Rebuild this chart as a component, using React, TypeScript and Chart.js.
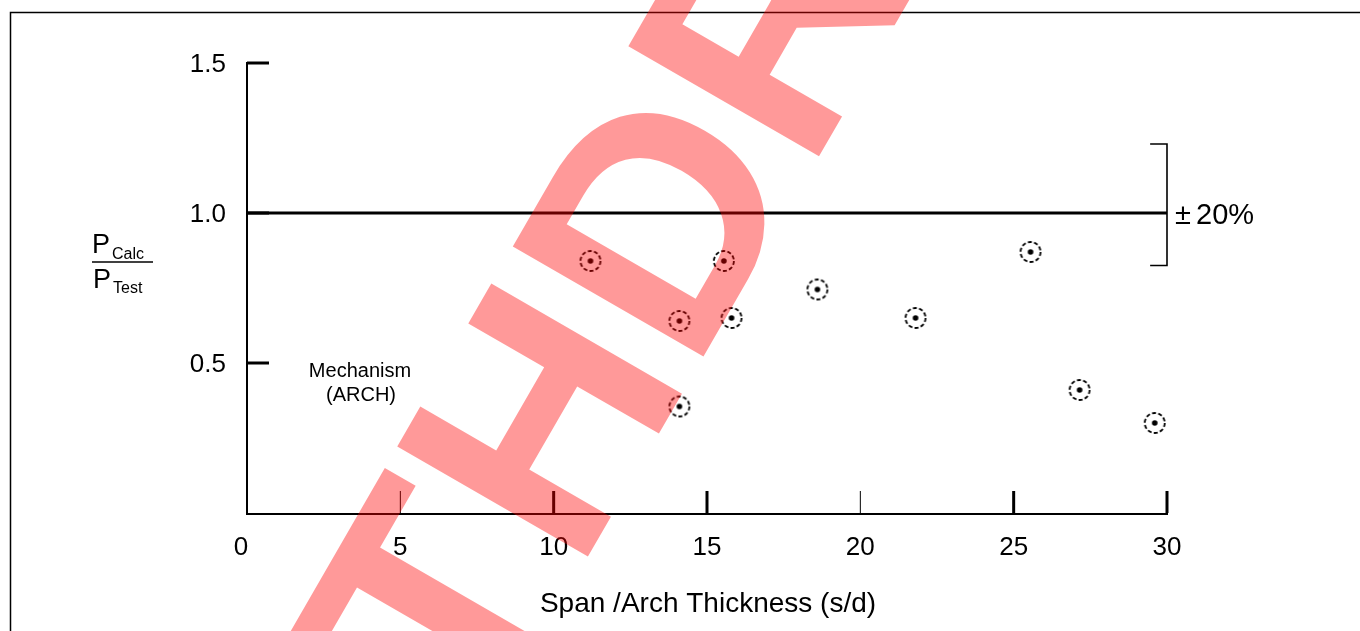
import React, { useEffect, useRef } from 'react';
import { Chart, registerables } from 'chart.js';

Chart.register(...registerables);

// ---- data ----
const spanRatio = [11.2, 15.55, 14.1, 15.8, 18.6, 21.8, 25.55, 14.1, 27.15, 29.6];
const pRatio = [0.84, 0.84, 0.64, 0.65, 0.745, 0.65, 0.87, 0.355, 0.41, 0.3];
const xTickValues = [0, 5, 10, 15, 20, 25, 30];
const xTickLabels = ['0', '5', '10', '15', '20', '25', '30'];
const yTickValues = [0.5, 1.0, 1.5];
const yTickLabels = ['0.5', '1.0', '1.5'];
const referenceY = 1.0;
const bandUpper = 1.23;
const bandLower = 0.825;
const bandLeftX = 29.45;
const xTitle = 'Span /Arch Thickness (s/d)';
const bandLabel = '±20%';
const noteLines = ['Mechanism', '(ARCH)'];
const watermarkText = 'WITHDRAWN';

// ---- styles ----
const FONT = "'Liberation Sans', Arial, sans-serif";
const xTickWidths = [0, 1, 3, 3, 1, 3, 3];

function makeMarker(): HTMLCanvasElement {
  const c = document.createElement('canvas');
  c.width = 26;
  c.height = 26;
  const g = c.getContext('2d')!;
  g.strokeStyle = '#000';
  g.lineWidth = 1.8;
  g.setLineDash([4, 2.3]);
  g.beginPath();
  g.arc(13, 13, 10, 0, Math.PI * 2);
  g.stroke();
  g.setLineDash([]);
  g.fillStyle = '#000';
  g.beginPath();
  g.arc(13, 13, 2.8, 0, Math.PI * 2);
  g.fill();
  return c;
}

const decorPlugin = {
  id: 'decor',
  beforeDraw(chart: any) {
    const ctx = chart.ctx;
    ctx.save();
    ctx.fillStyle = '#fff';
    ctx.fillRect(0, 0, chart.width, chart.height);
    ctx.strokeStyle = '#000';
    ctx.lineWidth = 1.5;
    ctx.strokeRect(10.5, 12.5, 1500, 800);
    ctx.restore();
  },
  beforeDatasetsDraw(chart: any) {
    const ctx = chart.ctx;
    const xs = chart.scales.x;
    const ys = chart.scales.y;
    const x0 = xs.getPixelForValue(0);
    const x1 = xs.getPixelForValue(30);
    const y0 = ys.getPixelForValue(0);
    const yTop = ys.getPixelForValue(1.5);
    ctx.save();
    ctx.strokeStyle = '#000';
    ctx.fillStyle = '#000';
    // axes
    ctx.lineWidth = 2;
    ctx.beginPath();
    ctx.moveTo(x0, yTop - 1);
    ctx.lineTo(x0, y0 + 1);
    ctx.lineTo(x1 + 1, y0 + 1);
    ctx.stroke();
    // x ticks
    xTickValues.forEach((v, i) => {
      const w = xTickWidths[i];
      if (!w) return;
      const px = xs.getPixelForValue(v);
      ctx.lineWidth = w;
      ctx.beginPath();
      ctx.moveTo(px, y0);
      ctx.lineTo(px, y0 - 22);
      ctx.stroke();
    });
    // y ticks
    yTickValues.forEach((v) => {
      const py = ys.getPixelForValue(v);
      ctx.lineWidth = 3;
      ctx.beginPath();
      ctx.moveTo(x0, py);
      ctx.lineTo(x0 + 22, py);
      ctx.stroke();
    });
    // tick labels
    ctx.font = `26px ${FONT}`;
    ctx.textAlign = 'center';
    ctx.textBaseline = 'alphabetic';
    xTickValues.forEach((v, i) => {
      ctx.fillText(xTickLabels[i], xs.getPixelForValue(v) - (i === 0 ? 6 : 0), 555);
    });
    ctx.textAlign = 'right';
    yTickValues.forEach((v, i) => {
      ctx.fillText(yTickLabels[i], 226, ys.getPixelForValue(v) + 9);
    });
    // x title
    ctx.textAlign = 'center';
    ctx.font = `28px ${FONT}`;
    ctx.fillText(xTitle, 708, 612);
    // y title fraction
    ctx.textAlign = 'left';
    ctx.font = `27px ${FONT}`;
    ctx.fillText('P', 92, 253);
    ctx.fillText('P', 93, 288);
    ctx.font = `16px ${FONT}`;
    ctx.fillText('Calc', 112, 259);
    ctx.fillText('Test', 113, 293);
    ctx.lineWidth = 1.5;
    ctx.beginPath();
    ctx.moveTo(92, 262);
    ctx.lineTo(153, 262);
    ctx.stroke();
    // band label: sign then number, with a small gap as in the figure
    ctx.font = `29px ${FONT}`;
    ctx.fillText(bandLabel.slice(0, 1), 1175, 224);
    ctx.fillText(bandLabel.slice(1), 1196, 224);
    // note
    ctx.textAlign = 'center';
    ctx.font = `20px ${FONT}`;
    ctx.fillText(noteLines[0], 360, 377);
    ctx.fillText(noteLines[1], 361, 401);
    ctx.restore();
  },
  afterDraw(chart: any) {
    const ctx = chart.ctx;
    ctx.save();
    ctx.fillStyle = 'rgba(255,0,0,0.4)';
    ctx.font = `bold 320px ${FONT}`;
    ctx.textAlign = 'left';
    ctx.textBaseline = 'alphabetic';
    ctx.translate(284, 1083);
    ctx.rotate((-60 * Math.PI) / 180);
    ctx.fillText(watermarkText, 0, 0);
    ctx.restore();
  },
};

export default function App() {
  const ref = useRef<HTMLCanvasElement | null>(null);
  useEffect(() => {
    document.body.style.margin = '0';
    const canvas = ref.current!;
    const marker = makeMarker();
    const chart = new Chart(canvas, {
      type: 'scatter',
      data: {
        datasets: [
          {
            label: 'points',
            data: spanRatio.map((x, i) => ({ x, y: pRatio[i] })),
            pointStyle: marker as any,
            pointRadius: 13,
            pointHoverRadius: 13,
            clip: false as any,
          },
          {
            label: 'reference',
            data: [
              { x: 0, y: referenceY },
              { x: 30, y: referenceY },
            ],
            showLine: true,
            borderColor: '#000',
            borderWidth: 3,
            pointRadius: 0,
            clip: false as any,
          },
          {
            label: 'band',
            data: [
              { x: bandLeftX, y: bandUpper },
              { x: 30, y: bandUpper },
              { x: 30, y: bandLower },
              { x: bandLeftX, y: bandLower },
            ],
            showLine: true,
            borderColor: '#000',
            borderWidth: 1.6,
            pointRadius: 0,
            clip: false as any,
          },
        ],
      },
      options: {
        animation: false,
        responsive: false,
        devicePixelRatio: 1,
        layout: { padding: { left: 247, right: 193, top: 63, bottom: 118 } },
        scales: {
          x: { type: 'linear', min: 0, max: 30, display: false },
          y: { type: 'linear', min: 0, max: 1.5, display: false },
        },
        plugins: {
          legend: { display: false },
          tooltip: { enabled: false },
        },
        events: [],
      },
      plugins: [decorPlugin],
    });
    return () => chart.destroy();
  }, []);
  return (
    <div style={{ width: 1360, height: 631 }}>
      <canvas ref={ref} width={1360} height={631} style={{ display: 'block' }} />
    </div>
  );
}
